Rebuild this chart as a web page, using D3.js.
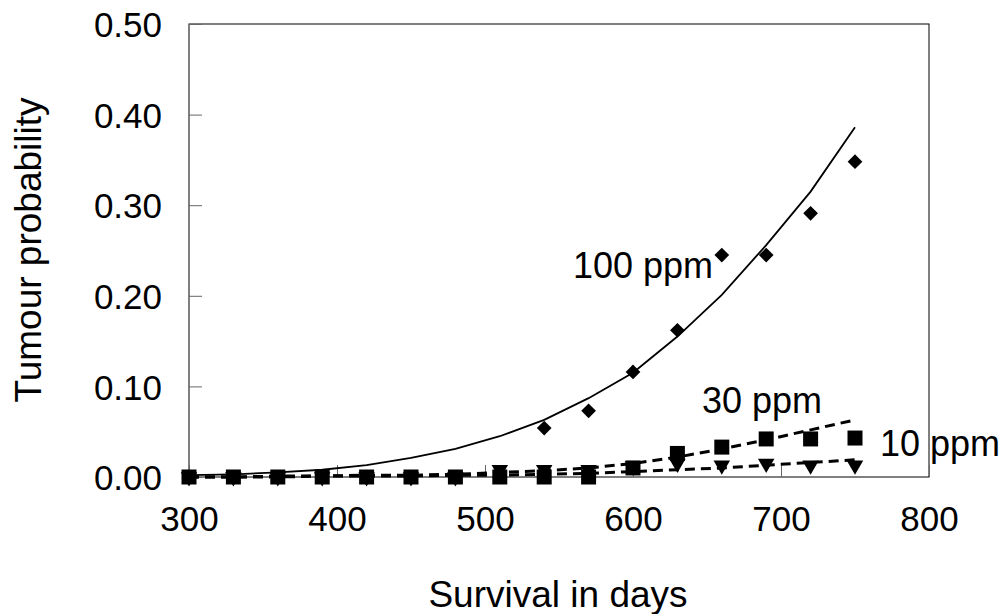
<!DOCTYPE html>
<html>
<head>
<meta charset="utf-8">
<script src="https://cdn.jsdelivr.net/npm/d3@7"></script>
<style>
  html, body { margin: 0; padding: 0; background: #fff; }
  svg { display: block; font-family: "Liberation Sans", Arial, sans-serif; }
</style>
</head>
<body>
<svg id="chart" width="1000" height="614"></svg>
<script>
// ---- data ----
const days = [300, 330, 360, 390, 420, 450, 480, 510, 540, 570, 600, 630, 660, 690, 720, 750];
const obs100 = [0, 0, 0, 0, 0, 0, 0, 0, 0.054, 0.073, 0.116, 0.162, 0.245, 0.245, 0.291, 0.348];
const fit100 = [0.002, 0.003, 0.005, 0.008, 0.013, 0.021, 0.031, 0.045, 0.063, 0.087, 0.115, 0.155, 0.201, 0.256, 0.315, 0.386];
const obs30 = [0, 0, 0, 0, 0, 0, 0, 0, 0, 0, 0.010, 0.026, 0.033, 0.042, 0.042, 0.043];
const fit30 = [0, 0, 0.001, 0.001, 0.002, 0.002, 0.003, 0.005, 0.007, 0.010, 0.015, 0.022, 0.031, 0.041, 0.052, 0.063];
const obs10 = [0, 0, 0, 0, 0, 0, 0, 0.008, 0.008, 0.008, 0.012, 0.015, 0.013, 0.015, 0.013, 0.013];
const fit10 = [0, 0, 0, 0.001, 0.001, 0.001, 0.002, 0.002, 0.003, 0.004, 0.006, 0.008, 0.010, 0.013, 0.016, 0.019];
const xTicks = [300, 400, 500, 600, 700, 800];
const yTicks = [0, 0.1, 0.2, 0.3, 0.4, 0.5];
const seriesLabels = ["100 ppm", "30 ppm", "10 ppm"];
const xTitle = "Survival in days";
const yTitle = "Tumour probability";

// ---- layout ----
const svg = d3.select("#chart");
const L = 189, R = 929, T = 24, B = 477;
const x = d3.scaleLinear().domain([300, 800]).range([L, R]);
const y = d3.scaleLinear().domain([0, 0.5]).range([B, T]);

// frame
svg.append("rect").attr("x", L).attr("y", T).attr("width", R - L).attr("height", B - T)
  .attr("fill", "none").attr("stroke", "#000").attr("stroke-width", 1);

// axes (ticks inside)
const yAxis = d3.axisLeft(y).tickValues(yTicks).tickSize(-13).tickPadding(27).tickFormat(d3.format(".2f"));
const gy = svg.append("g").attr("transform", `translate(${L},0)`).call(yAxis);
gy.select(".domain").remove();
gy.selectAll(".tick line").attr("stroke", "#666");
gy.selectAll(".tick text").attr("font-size", 35).attr("fill", "#000")
  .attr("font-family", "Liberation Sans, Arial, sans-serif").attr("dy", "0.36em");

const xAxis = d3.axisBottom(x).tickValues(xTicks).tickSize(-12).tickPadding(29).tickFormat(d3.format("d"));
const gx = svg.append("g").attr("transform", `translate(0,${B})`).call(xAxis);
gx.select(".domain").remove();
gx.selectAll(".tick line").attr("stroke", "#666");
gx.selectAll(".tick text").attr("font-size", 35).attr("fill", "#000")
  .attr("font-family", "Liberation Sans, Arial, sans-serif");

// titles
svg.append("text").attr("x", 558).attr("y", 607).attr("text-anchor", "middle")
  .attr("font-size", 37).text(xTitle);
svg.append("text").attr("transform", "translate(41,250) rotate(-90)").attr("text-anchor", "middle")
  .attr("font-size", 37).text(yTitle);

// lines
const line = vals => d3.line().x((d, i) => x(days[i])).y(d => y(d))(vals);
svg.append("path").attr("d", line(fit100)).attr("fill", "none").attr("stroke", "#000").attr("stroke-width", 1.8);
svg.append("path").attr("d", line(fit10)).attr("fill", "none").attr("stroke", "#000").attr("stroke-width", 3)
  .attr("stroke-dasharray", "10,6");
svg.append("path").attr("d", line(fit30)).attr("fill", "none").attr("stroke", "#000").attr("stroke-width", 3)
  .attr("stroke-dasharray", "10,6");

// markers
const diamond = d3.symbol().type(d3.symbolSquare).size(108)();
const square = d3.symbol().type(d3.symbolSquare).size(225)();
const tri = d3.symbol().type(d3.symbolTriangle).size(118)();

svg.append("g").selectAll("path").data(obs100).join("path")
  .attr("d", diamond).attr("fill", "#000")
  .attr("transform", (d, i) => `translate(${x(days[i])},${y(d)}) rotate(45)`);
svg.append("g").selectAll("path").data(obs10).join("path")
  .attr("d", tri).attr("fill", "#000")
  .attr("transform", (d, i) => `translate(${x(days[i])},${y(d)}) rotate(180)`);
svg.append("g").selectAll("path").data(obs30).join("path")
  .attr("d", square).attr("fill", "#000")
  .attr("transform", (d, i) => `translate(${x(days[i])},${y(d)})`);

// series labels
const labelPos = [[573, 278], [702, 413], [880, 456]];
svg.append("g").selectAll("text").data(seriesLabels).join("text")
  .attr("x", (d, i) => labelPos[i][0]).attr("y", (d, i) => labelPos[i][1])
  .attr("font-size", 36).attr("fill", "#000").text(d => d);
</script>
</body>
</html>
